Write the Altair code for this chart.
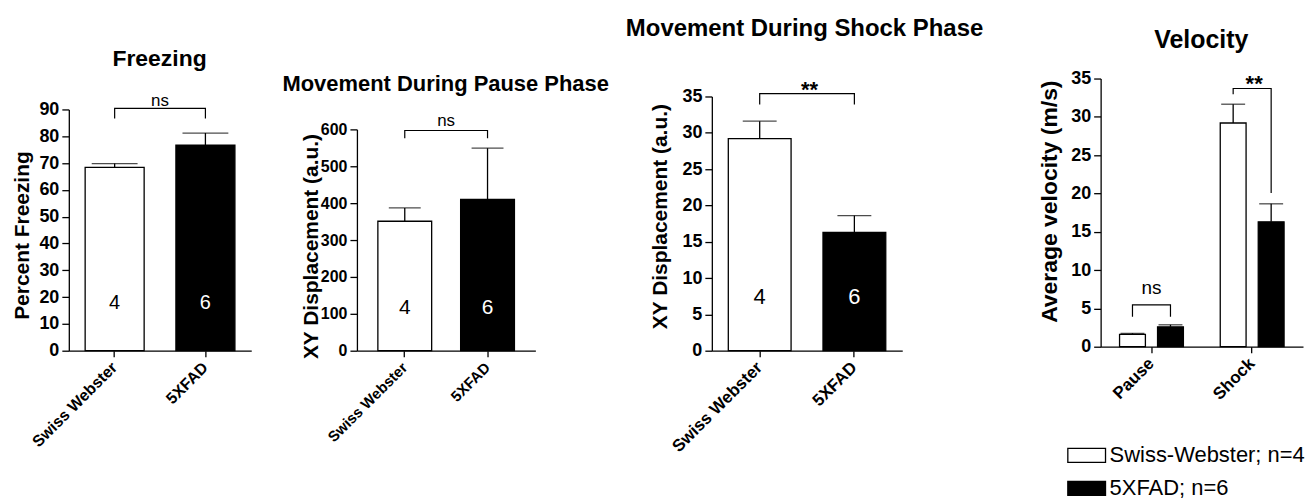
import altair as alt
import pandas as pd

FONT = "Liberation Sans"

# ---------------- data ----------------
groups = ["Swiss Webster", "5XFAD"]
group_n = [4, 6]
legend_labels = ["Swiss-Webster; n=4", "5XFAD; n=6"]
fills = ["white", "black"]
n_text_colors = ["black", "white"]

freezing_mean = [68.4, 76.7]
freezing_sem = [1.4, 4.5]
pause_mean = [351, 410]
pause_sem = [36, 139]
shock_mean = [29.2, 16.3]
shock_sem = [2.4, 2.3]

phases = ["Pause", "Shock"]
vel_sw_mean = [1.6, 29.2]
vel_sw_sem = [0.15, 2.45]
vel_fx_mean = [2.6, 16.3]
vel_fx_sem = [0.26, 2.35]

# significance: label, bracket low (left), bracket top, bracket low (right), label level
freezing_sig = ["ns", 86.6, 90.4, 86.6, 91.1]
pause_sig = ["ns", 576, 597, 576, 608]
shock_sig = ["**", 33.9, 35.4, 33.9, 34.9]
vel_sig_pause = ["ns", 3.9, 5.46, 3.9, 6.93]
vel_sig_shock = ["**", 32.95, 33.7, 20.07, 33.4]

H = 342


def y_axis(values, offset, title_x, title_y, label_size, title_size):
    return alt.Axis(
        values=values, offset=offset, grid=False,
        domainColor="black", domainWidth=1.3,
        tickColor="black", tickWidth=1.3, tickSize=7,
        labelFont=FONT, labelFontSize=label_size, labelFontWeight="bold",
        labelColor="black", labelPadding=3, labelFlush=False, labelOverlap=False,
        titleFont=FONT, titleFontSize=title_size, titleFontWeight="bold",
        titleColor="black", titleAngle=270, titleBaseline="alphabetic",
        titleAlign="center", titleX=title_x, titleY=title_y,
    )


def x_axis(label_size, offset=0):
    return alt.Axis(
        labelAngle=315, labelAlign="right", labelBaseline="middle",
        labelFont=FONT, labelFontSize=label_size, labelFontWeight="bold",
        labelColor="black", labelPadding=8, labelOverlap=False,
        tickSize=6, tickColor="black", tickWidth=1.3,
        domainColor="black", domainWidth=1.3, grid=False, offset=offset,
    )


def title_layer(text, x, y, size):
    return alt.Chart(pd.DataFrame({"t": [text]})).mark_text(
        font=FONT, fontSize=size, fontWeight="bold", baseline="alphabetic",
        align="center", color="black",
    ).encode(x=alt.value(x), y=alt.value(y), text="t:N")


def group_panel(mean, sem, sig, c):
    df = pd.DataFrame({
        "group": groups,
        "value": mean,
        "upper": [m + s for m, s in zip(mean, sem)],
        "n": group_n,
    })
    xs = alt.Scale(domain=groups, range=c["x_range"],
                   paddingInner=c["pi"], paddingOuter=c["po"])
    x = alt.X("group:N", scale=xs, axis=x_axis(c["xlab"]), title=None, sort=groups)
    ys = alt.Scale(domain=c["y_domain"], range=c["y_range"], nice=False)
    yax = y_axis(c["ticks"], -c["x_range"][0], c["tx"], c["ty"], c["ylab"], c["ytitle_size"])

    def Y(f):
        return alt.Y(f"{f}:Q", scale=ys, axis=yax, title=c["y_title"])

    base = alt.Chart(df)
    bars = base.mark_bar(stroke="black", strokeWidth=1.3).encode(
        x=x, y=Y("value"),
        fill=alt.Fill("group:N", scale=alt.Scale(domain=groups, range=fills), legend=None),
    )
    err = base.mark_rule(color="black", strokeWidth=1.3).encode(x=x, y=Y("value"), y2="upper:Q")
    cap = base.mark_tick(color="black", thickness=1.3, size=c["cap"]).encode(x=x, y=Y("upper"))
    ntext = base.mark_text(font=FONT, fontSize=c["nsize"], baseline="alphabetic").encode(
        x=x, y=alt.value(c["n_y"]), text="n:N",
        color=alt.Color("group:N", scale=alt.Scale(domain=groups, range=n_text_colors), legend=None),
    )
    label, low_a, top, low_b, tv = sig
    br = pd.DataFrame({
        "group": [groups[0], groups[0], groups[1], groups[1]],
        "v": [low_a, top, top, low_b],
        "o": [0, 1, 2, 3],
    })
    bracket = alt.Chart(br).mark_line(color="black", strokeWidth=1.2).encode(
        x=x, y=Y("v"), order="o:Q")
    sigtext = alt.Chart(pd.DataFrame({"group": [groups[0]], "v": [tv], "t": [label]})).mark_text(
        font=FONT, fontSize=c["sig_size"], fontWeight=c["sig_weight"], baseline="alphabetic",
        dx=c["dx"], color="black",
    ).encode(x=x, y=Y("v"), text="t:N")
    ttl = title_layer(c["title"], c["title_x"], c["title_y"], c["title_size"])
    return alt.layer(bars, err, cap, bracket, ntext, sigtext, ttl).properties(
        width=c["w"], height=H)


p1 = group_panel(freezing_mean, freezing_sem, freezing_sig, dict(
    w=267, x_range=[59, 242], pi=0.35, po=0.18, xlab=16,
    y_domain=[0, 90], y_range=[342, 100], ticks=list(range(0, 91, 10)),
    tx=-40, ty=226, ylab=18, ytitle_size=21, y_title="Percent Freezing",
    cap=46, nsize=20, n_y=300, sig_size=17, sig_weight="normal", dx=45.5,
    title="Freezing", title_x=150, title_y=56, title_size=23,
))

p2 = group_panel(pause_mean, pause_sem, pause_sig, dict(
    w=337, x_range=[81, 260], pi=0.35, po=0.253, xlab=15,
    y_domain=[0, 600], y_range=[342, 120], ticks=list(range(0, 601, 100)),
    tx=-40, ty=237, ylab=16, ytitle_size=21, y_title="XY Displacement (a.u.)",
    cap=32, nsize=21, n_y=305, sig_size=17, sig_weight="normal", dx=41.5,
    title="Movement During Pause Phase", title_x=170, title_y=81, title_size=22,
))

p3 = group_panel(shock_mean, shock_sem, shock_sig, dict(
    w=388, x_range=[100, 291], pi=0.337, po=0.174, xlab=17,
    y_domain=[0, 35], y_range=[342, 87], ticks=list(range(0, 36, 5)),
    tx=-45, ty=207, ylab=18, ytitle_size=21, y_title="XY Displacement (a.u.)",
    cap=34, nsize=22, n_y=295, sig_size=22, sig_weight="bold", dx=50,
    title="Movement During Shock Phase", title_x=193, title_y=26, title_size=24,
))

# ---------------- velocity panel ----------------
vel_rows = []
for i, ph in enumerate(phases):
    vel_rows.append({"phase": ph, "group": groups[0], "value": vel_sw_mean[i],
                     "upper": vel_sw_mean[i] + vel_sw_sem[i]})
    vel_rows.append({"phase": ph, "group": groups[1], "value": vel_fx_mean[i],
                     "upper": vel_fx_mean[i] + vel_fx_sem[i]})
vdf = pd.DataFrame(vel_rows)

xs4 = alt.Scale(domain=phases, range=[102, 305], paddingInner=0.366, paddingOuter=0.188)
x4 = alt.X("phase:N", scale=xs4, axis=x_axis(17, offset=-4), title=None, sort=phases)
xo4 = alt.XOffset("group:N", scale=alt.Scale(domain=groups, paddingInner=0.32, paddingOuter=0), sort=groups)
ys4 = alt.Scale(domain=[0, 35], range=[338, 69], nice=False)
yax4 = y_axis(list(range(0, 36, 5)), -102, -44, 192, 18, 23)


def Y4(f):
    return alt.Y(f"{f}:Q", scale=ys4, axis=yax4, title="Average velocity (m/s)")


legend_expr = (f"datum.label == '{groups[0]}' ? '{legend_labels[0]}' : '{legend_labels[1]}'")
vbase = alt.Chart(vdf)
vbars = vbase.mark_bar(stroke="black", strokeWidth=1.3).encode(
    x=x4, xOffset=xo4, y=Y4("value"),
    fill=alt.Fill("group:N", scale=alt.Scale(domain=groups, range=fills), sort=groups,
                  legend=alt.Legend(
                      orient="none", legendX=77, legendY=436, title=None, padding=0,
                      symbolType="M-2.7,-1H2.7V1H-2.7Z", symbolSize=196,
                      symbolStrokeColor="black", symbolStrokeWidth=1.3,
                      labelFont=FONT, labelFontSize=22, labelColor="black",
                      labelOffset=12, labelLimit=0, rowPadding=11, labelExpr=legend_expr,
                  )),
)
verr = vbase.mark_rule(color="black", strokeWidth=1.3).encode(
    x=x4, xOffset=xo4, y=Y4("value"), y2="upper:Q")
vcap = vbase.mark_tick(color="black", thickness=1.3, size=24).encode(
    x=x4, xOffset=xo4, y=Y4("upper"))

br_rows = []
for ph, sig in zip(phases, [vel_sig_pause, vel_sig_shock]):
    _, low_a, top, low_b, _ = sig
    for o, (g, v) in enumerate([(groups[0], low_a), (groups[0], top), (groups[1], top), (groups[1], low_b)]):
        br_rows.append({"phase": ph, "group": g, "v": v, "o": o})
vbracket = alt.Chart(pd.DataFrame(br_rows)).mark_line(color="black", strokeWidth=1.2).encode(
    x=x4, xOffset=xo4, y=Y4("v"), order="o:Q", detail="phase:N")

vns = alt.Chart(pd.DataFrame({"phase": [phases[0]], "v": [vel_sig_pause[4]], "t": [vel_sig_pause[0]]})).mark_text(
    font=FONT, fontSize=19, baseline="alphabetic", color="black").encode(x=x4, y=Y4("v"), text="t:N")
vstar = alt.Chart(pd.DataFrame({"phase": [phases[1]], "v": [vel_sig_shock[4]], "t": [vel_sig_shock[0]]})).mark_text(
    font=FONT, fontSize=22, fontWeight="bold", baseline="alphabetic", color="black", dx=2).encode(
    x=x4, y=Y4("v"), text="t:N")
vtitle = title_layer("Velocity", 203, 38, 25)

p4 = alt.layer(vbars, verr, vcap, vbracket, vns, vstar, vtitle).properties(width=305, height=H)

chart = (
    alt.hconcat(p1, p2, p3, p4, spacing=0)
    .resolve_scale(x="independent", y="independent", fill="independent", color="independent")
    .properties(padding={"left": 2, "top": 1, "right": 0, "bottom": 0})
    .configure(font=FONT)
    .configure_view(strokeWidth=0, stroke="transparent")
)

chart.save("out.html", embed_options={"renderer": "svg", "actions": False})
